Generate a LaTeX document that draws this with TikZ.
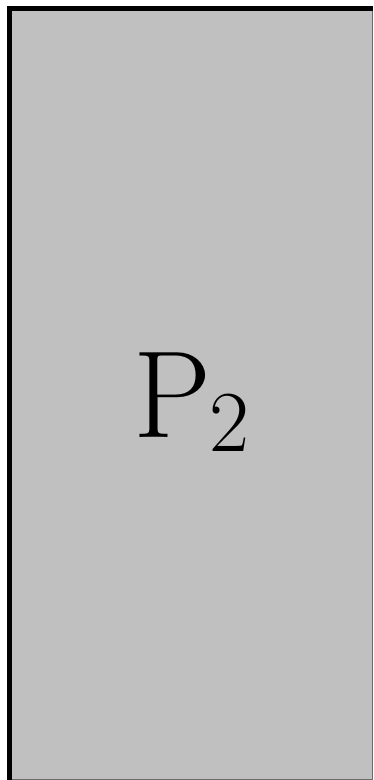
\documentclass[tikz,border=0pt]{standalone}
\usepackage{fontspec}
\begin{document}
\begin{tikzpicture}[x=1pt,y=1pt,
  panel/.style={fill=panelgray},
  edgethin/.style={draw=edgegray,line width=1pt},
  edgethick/.style={draw=black,line width=5pt,line join=miter},
  bigtext/.style={font=\fontsize{124}{130}\selectfont,inner sep=0pt}]
\definecolor{panelgray}{HTML}{C0C0C0}
\definecolor{edgegray}{HTML}{6A6A6A}
\useasboundingbox (0,0) rectangle (373,780);
\fill[panel] (7,0.5) rectangle (373,774);
\draw[edgethin] (7,0.5) -- (372.5,0.5) -- (372.5,774);
\draw[edgethick] (9.5,0) -- (9.5,771.5) -- (373,771.5);
\node[bigtext,anchor=base west] (label) at (133,342) {P\kern-2pt\raisebox{-14pt}{\fontsize{87}{90}\selectfont 2}};
\end{tikzpicture}
\end{document}
